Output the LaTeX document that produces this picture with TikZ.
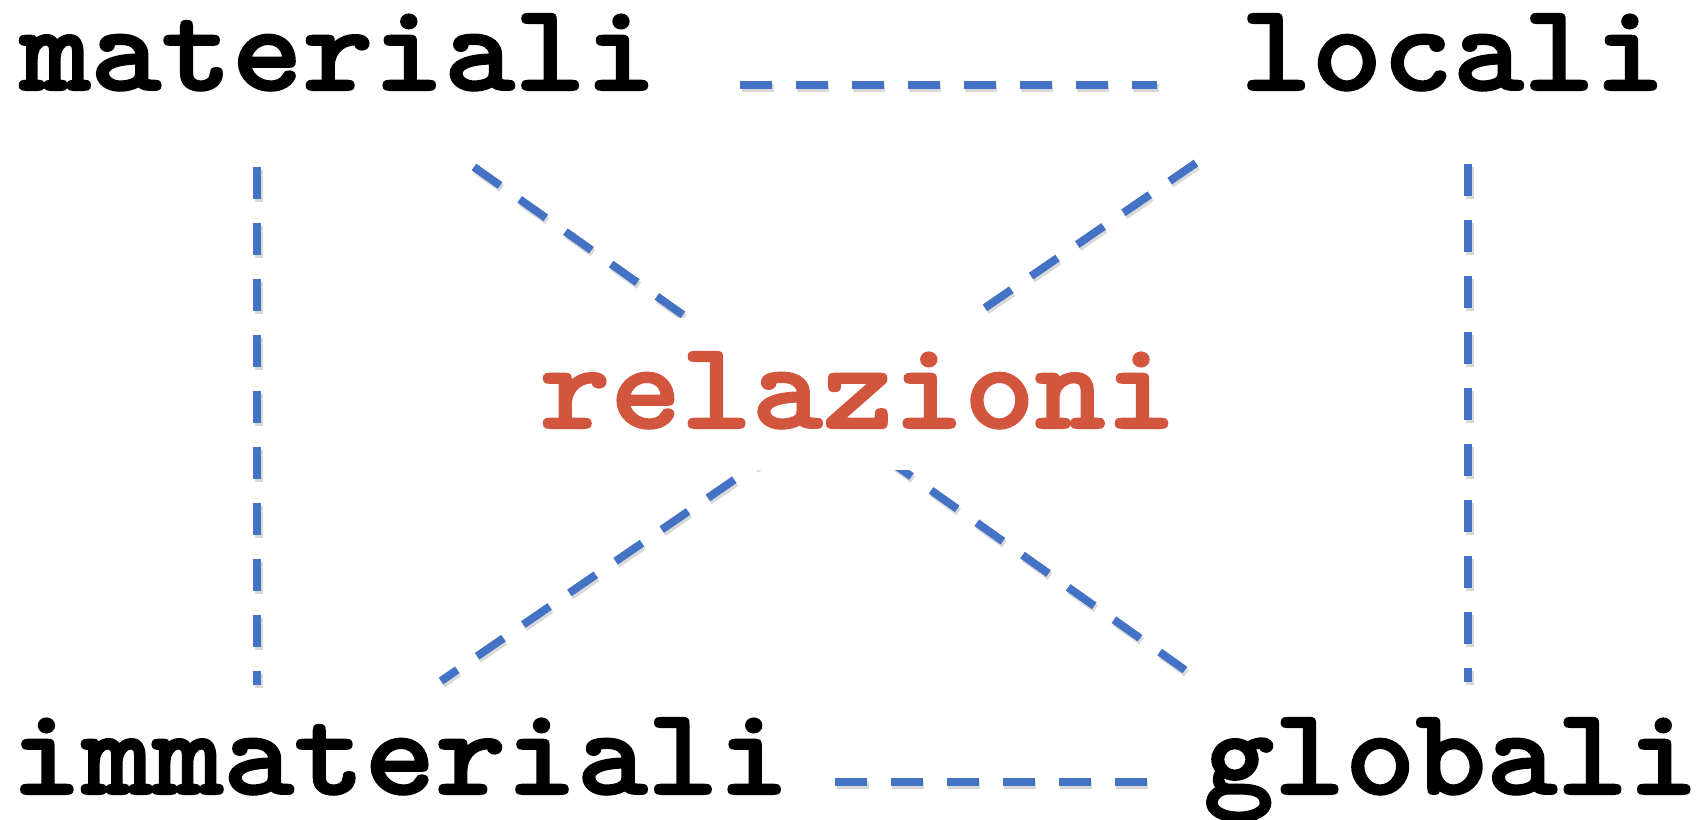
\documentclass[tikz,border=0pt]{standalone}
\usepackage{fontspec}
\usepackage{tikz}
\usetikzlibrary{positioning}
\newfontfamily\wordfont{lmmonolt10-bold.otf}[FakeBold=1.6, FakeStretch=1.08]
\definecolor{linkblue}{RGB}{68,114,196}
\definecolor{relred}{RGB}{210,85,62}

\tikzset{
  word/.style={font=\fontsize{71}{80}\selectfont\wordfont, inner sep=0pt, anchor=base,
    text height=1.5cm, text depth=0.5cm},
  dashes/.style={line width=0.16cm, dash pattern=on 0.64cm off 0.48cm},
  link/.style={linkblue, dashes,
    preaction={draw=black, opacity=0.15, dashes, transform canvas={shift={(0.03cm,-0.06cm)}}}},
}

\begin{document}
\begin{tikzpicture}[x=0.02cm, y=-0.02cm]
  \useasboundingbox (0,0) rectangle (1704,819);
  % the four corner words
  \node[word] (materiali)   at (338,90)   {materiali};
  \node[word] (locali)      at (1453,90)  {locali};
  \node[word] (immateriali) at (400,794)  {immateriali};
  \node[word] (globali)     at (1451,794) {globali};
  % line ends
  \coordinate (mat-v) at (257,167);  \coordinate (imm-v) at (257,685);
  \coordinate (loc-v) at (1468,164); \coordinate (glo-v) at (1468,682);
  \coordinate (mat-h) at (740,85);   \coordinate (loc-h) at (1157,85);
  \coordinate (imm-h) at (835,782);  \coordinate (glo-h) at (1147,782);
  \coordinate (mat-d) at (474,167);  \coordinate (glo-d) at (1185,670);
  \coordinate (loc-d) at (1196,163); \coordinate (imm-d) at (441,681);
  % dashed links
  \draw[link] (mat-h) -- (loc-h);
  \draw[link] (imm-h) -- (glo-h);
  \draw[link] (mat-v) -- (imm-v);
  \draw[link] (loc-v) -- (glo-v);
  \draw[link] (mat-d) -- (glo-d);
  \draw[link] (loc-d) -- (imm-d);
  % centre word covers the crossing
  \node[word, text=relred, fill=white, text height=2.2cm, text depth=0.84cm]
       (relazioni) at (858,428) {relazioni};
\end{tikzpicture}
\end{document}
